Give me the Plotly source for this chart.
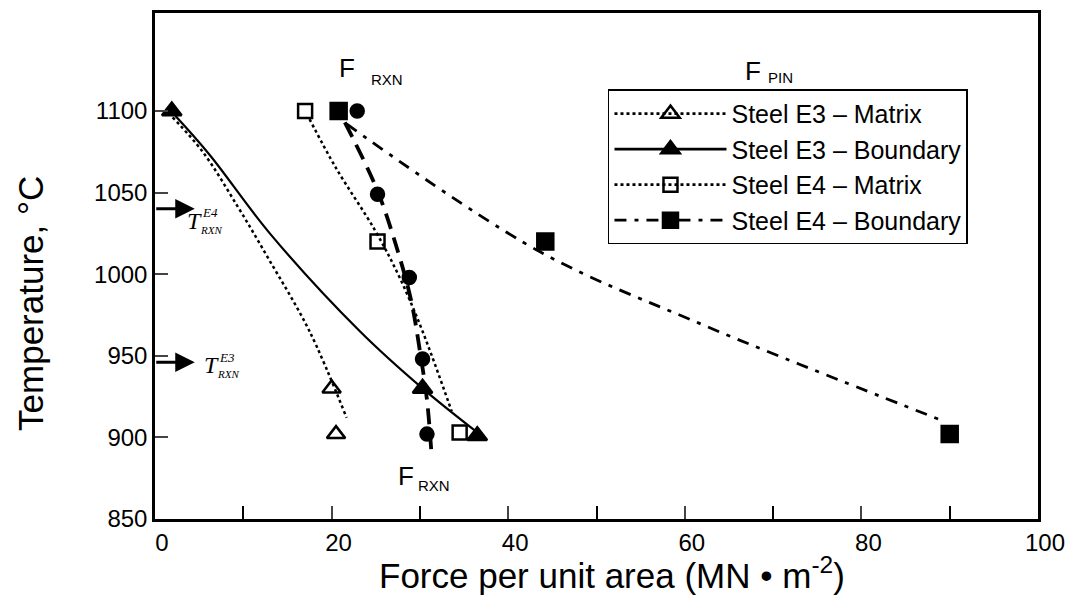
import plotly.graph_objects as go

# ---- measured points ----
e3_matrix_x = [20.0, 20.5]
e3_matrix_y = [930, 902]
e3_boundary_x = [1.9, 30.3, 36.5]
e3_boundary_y = [1100, 930, 901]
e4_matrix_x = [17.0, 25.2, 34.5]
e4_matrix_y = [1100, 1020, 903]
e4_boundary_x = [20.8, 44.2, 90.0]
e4_boundary_y = [1100, 1020, 902]
f_rxn_x = [22.9, 25.2, 28.8, 30.3, 30.8]
f_rxn_y = [1100, 1049, 998, 948, 902]

# ---- trend curves ----
e3_matrix_fit_x = [2.0, 5.4, 9.3, 12.8, 17.5, 21.7]
e3_matrix_fit_y = [1096, 1075, 1042, 1010, 965, 912]
e3_boundary_fit_x = [2.3, 6.2, 13.0, 23.2, 30.3, 36.5]
e3_boundary_fit_y = [1097, 1073, 1025, 965, 930, 903]
e4_matrix_fit_x = [17.5, 20.5, 24.9, 27.7, 30.3, 33.6]
e4_matrix_fit_y = [1095, 1065, 1027, 998, 965, 916]
e4_boundary_fit_x = [21.7, 43.5, 61.6, 72.9, 89.3]
e4_boundary_fit_y = [1092, 1014, 970, 945, 910]
f_rxn_fit_x = [21.5, 25.2, 27.5, 29.0, 30.0, 30.8, 31.3]
f_rxn_fit_y = [1093, 1051, 1014, 984, 953, 923, 891]

x_ticks = [0, 20, 40, 60, 80, 100]
y_ticks = [850, 900, 950, 1000, 1050, 1100]

FONT = "Arial, Liberation Sans, sans-serif"
SERIF = "Times New Roman, Liberation Serif, serif"
DASHDOT = "12px,8px,4px,8px"

fig = go.Figure()


def curve(x, y, dash, width):
    fig.add_trace(go.Scatter(
        x=x, y=y, mode="lines",
        line=dict(color="black", width=width, dash=dash, shape="spline"),
        showlegend=False, hoverinfo="skip"))


def points(x, y, symbol, size):
    fig.add_trace(go.Scatter(
        x=x, y=y, mode="markers", showlegend=False,
        marker=dict(symbol=symbol, size=size, color="black",
                    line=dict(color="black", width=2.5))))


curve(e3_matrix_fit_x, e3_matrix_fit_y, "dot", 2.5)
curve(e3_boundary_fit_x, e3_boundary_fit_y, "solid", 2.2)
curve(e4_matrix_fit_x, e4_matrix_fit_y, "dot", 2.5)
curve(e4_boundary_fit_x, e4_boundary_fit_y, DASHDOT, 2.8)
curve(f_rxn_fit_x, f_rxn_fit_y, "16px,9px", 3.8)

points(e3_matrix_x, e3_matrix_y, "triangle-up-open", 16)
points(e3_boundary_x, e3_boundary_y, "triangle-up", 17)
points(e4_matrix_x, e4_matrix_y, "square-open", 14)
points(e4_boundary_x, e4_boundary_y, "square", 16)
points(f_rxn_x, f_rxn_y, "circle", 13)

# legend entries (line sample + marker)
legend_items = [
    ("Steel E3 \u2013 Matrix", "dot", "triangle-up-open", 16),
    ("Steel E3 \u2013 Boundary", "solid", "triangle-up", 16),
    ("Steel E4 \u2013 Matrix", "dot", "square-open", 14),
    ("Steel E4 \u2013 Boundary", DASHDOT, "square", 15),
]
for name, dash, sym, sz in legend_items:
    fig.add_trace(go.Scatter(
        x=[None], y=[None], mode="lines+markers", name=name,
        line=dict(color="black", width=2.8, dash=dash),
        marker=dict(symbol=sym, size=sz, color="black",
                    line=dict(color="black", width=2.5))))

ann = []
# recrystallisation temperature arrows on the temperature axis
for yv in (1040, 946):
    ann.append(dict(x=4.5, y=yv, xref="x", yref="y", ax=-40, ay=0, text="",
                    showarrow=True, arrowhead=2, arrowsize=1.3, arrowwidth=3,
                    arrowcolor="black"))


def t_label(x0, yv, steel, dy):
    ann.append(dict(x=x0, y=yv, xref="x", yref="y", text="<i>T</i>", showarrow=False,
                    font=dict(family=SERIF, size=24, color="black"),
                    xanchor="left", yanchor="middle", yshift=-dy))
    ann.append(dict(x=x0, y=yv, xref="x", yref="y", text="<i>" + steel + "</i>",
                    showarrow=False, font=dict(family=SERIF, size=13, color="black"),
                    xanchor="left", yanchor="middle", xshift=15, yshift=-dy + 8))
    ann.append(dict(x=x0, y=yv, xref="x", yref="y", text="<i>RXN</i>",
                    showarrow=False, font=dict(family=SERIF, size=11, color="black"),
                    xanchor="left", yanchor="middle", xshift=13, yshift=-dy - 9))


t_label(3.4, 1040, "E4", 12)
t_label(5.3, 946, "E3", 3)


def region_label(xf, yf, xs, ys, sub):
    ann.append(dict(x=xf, y=yf, xref="x", yref="y", text="F", showarrow=False,
                    font=dict(family=FONT, size=26, color="black")))
    ann.append(dict(x=xs, y=ys, xref="x", yref="y", text=sub, showarrow=False,
                    font=dict(family=FONT, size=15, color="black")))


region_label(21.7, 1126.5, 26.3, 1119.0, "RXN")
region_label(67.7, 1124.7, 70.8, 1120.4, "PIN")
region_label(28.4, 876.2, 31.6, 870.7, "RXN")

# axis titles
ann.append(dict(x=-0.141, y=0.426, xref="paper", yref="paper", showarrow=False,
                xanchor="center", yanchor="middle",
                text="Temperature, \u00b0C", textangle=-90,
                font=dict(family=FONT, size=35, color="black")))
ann.append(dict(x=0.5175, y=-0.106, xref="paper", yref="paper", showarrow=False,
                xanchor="center", yanchor="middle",
                text="Force per unit area (MN \u2022 m<sup>-2</sup>)",
                font=dict(family=FONT, size=35, color="black")))

fig.update_layout(
    width=1075, height=614,
    margin=dict(l=155, r=35, t=10, b=95),
    paper_bgcolor="white", plot_bgcolor="white",
    font=dict(family=FONT, color="black", size=24),
    annotations=ann,
    legend=dict(x=0.513, y=0.849, xanchor="left", yanchor="top",
                bgcolor="white", bordercolor="black", borderwidth=1.5,
                font=dict(family=FONT, size=25, color="black"),
                itemwidth=112, tracegroupgap=0),
    xaxis=dict(range=[0, 100], tickvals=x_ticks, ticks="inside", ticklen=13, tickwidth=2,
               showline=True, linecolor="black", linewidth=2.5, mirror=True,
               showgrid=False, zeroline=False, ticklabelshift=7,
               minor=dict(dtick=10, ticks="inside", ticklen=13, tickwidth=2,
                          tickcolor="black"),
               tickfont=dict(size=24)),
    yaxis=dict(range=[850, 1160], tickvals=y_ticks, ticks="inside", ticklen=13, tickwidth=2,
               showline=True, linecolor="black", linewidth=2.5, mirror=True,
               showgrid=False, zeroline=False, tickfont=dict(size=24)),
)

fig.write_html("out.html")
